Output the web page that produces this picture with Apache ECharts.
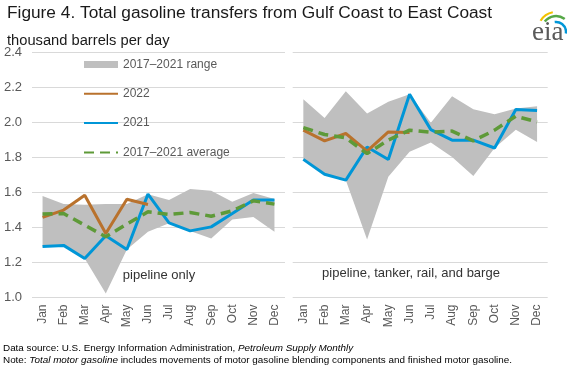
<!DOCTYPE html>
<html><head><meta charset="utf-8">
<script src="https://cdn.jsdelivr.net/npm/echarts@6/dist/echarts.min.js"></script>
<style>html,body{margin:0;padding:0;background:#fff}#c{width:567px;height:370px}</style>
</head><body><div id="c"></div>
<script>
const months = ['Jan','Feb','Mar','Apr','May','Jun','Jul','Aug','Sep','Oct','Nov','Dec'];
const yTicks = [1.0, 1.2, 1.4, 1.6, 1.8, 2.0, 2.2, 2.4];

// pipeline only
const pipeRangeLow  = [1.292, 1.298, 1.223, 1.023, 1.275, 1.376, 1.424, 1.381, 1.338, 1.446, 1.461, 1.376];
const pipeRangeHigh = [1.580, 1.535, 1.530, 1.535, 1.535, 1.591, 1.557, 1.620, 1.610, 1.547, 1.597, 1.563];
const pipe2022 = [1.458, 1.500, 1.585, 1.366, 1.562, 1.532];
const pipe2021 = [1.292, 1.298, 1.223, 1.353, 1.275, 1.591, 1.427, 1.381, 1.404, 1.480, 1.557, 1.557];
const pipeAvg  = [1.477, 1.480, 1.414, 1.347, 1.420, 1.490, 1.475, 1.486, 1.465, 1.496, 1.553, 1.534];

// pipeline, tanker, rail, and barge
const allRangeLow  = [1.790, 1.705, 1.671, 1.332, 1.690, 1.833, 1.886, 1.804, 1.695, 1.855, 1.960, 1.890];
const allRangeHigh = [2.134, 2.027, 2.179, 2.052, 2.119, 2.162, 2.000, 2.151, 2.077, 2.048, 2.081, 2.094];
const all2022 = [1.957, 1.896, 1.938, 1.837, 1.947, 1.943];
const all2021 = [1.790, 1.705, 1.671, 1.861, 1.789, 2.162, 1.960, 1.900, 1.900, 1.855, 2.075, 2.069];
const allAvg  = [1.972, 1.932, 1.913, 1.823, 1.900, 1.957, 1.945, 1.952, 1.896, 1.957, 2.037, 2.004];

const panelLabels = ['pipeline only', 'pipeline, tanker, rail, and barge'];
const legendNames = ['2017\u20132021 range', '2022', '2021', '2017\u20132021 average'];

const FONT = '"Liberation Sans", Arial, sans-serif';
const C_RANGE = '#BFBFBF', C_2022 = '#B9722D', C_2021 = '#0096D7', C_AVG = '#5E9A38';

const chart = echarts.init(document.getElementById('c'), null, {renderer: 'canvas'});

function panelSeries(idx, low, high, y22, y21, avg) {
  const band = high.map((h, i) => +(h - low[i]).toFixed(4));
  return [
    {name: 'rangeLow' + idx, type: 'line', xAxisIndex: idx, yAxisIndex: idx, stack: 'r' + idx,
     data: low, symbol: 'none', lineStyle: {opacity: 0}, silent: true},
    {name: legendNames[0], type: 'line', xAxisIndex: idx, yAxisIndex: idx, stack: 'r' + idx,
     data: band, symbol: 'none', lineStyle: {opacity: 0}, itemStyle: {color: C_RANGE},
     areaStyle: {color: C_RANGE, opacity: 1}},
    {name: legendNames[2], type: 'line', xAxisIndex: idx, yAxisIndex: idx, data: y21, symbol: 'none',
     itemStyle: {color: C_2021}, lineStyle: {color: C_2021, width: 3}},
    {name: legendNames[1], type: 'line', xAxisIndex: idx, yAxisIndex: idx, data: y22, symbol: 'none',
     itemStyle: {color: C_2022}, lineStyle: {color: C_2022, width: 3}},
    {name: legendNames[3], type: 'line', xAxisIndex: idx, yAxisIndex: idx, data: avg, symbol: 'none',
     itemStyle: {color: C_AVG}, lineStyle: {color: C_AVG, width: 3.5, type: [10, 6]}}
  ];
}

const gridTop = 52.7, gridH = 244.8;
const xAxisBase = {
  type: 'category', data: months, boundaryGap: true,
  axisLine: {show: false}, axisTick: {show: false},
  axisLabel: {rotate: 90, interval: 0, fontSize: 12, color: '#595959', fontFamily: FONT, margin: 7}
};
const yAxisBase = {
  type: 'value', min: yTicks[0], max: yTicks[yTicks.length - 1], interval: 0.2,
  axisLine: {show: false}, axisTick: {show: false},
  splitLine: {lineStyle: {color: '#D9D9D9', width: 1}}
};

chart.setOption({
  animation: false,
  backgroundColor: '#fff',
  textStyle: {fontFamily: FONT},
  title: [
    {text: 'Figure 4. Total gasoline transfers from Gulf Coast to East Coast', left: 2, top: 0,
     textStyle: {fontSize: 17.3, fontWeight: 'normal', color: '#1a1a1a', fontFamily: FONT}},
    {text: 'thousand barrels per day', left: 2, top: 28,
     textStyle: {fontSize: 14.7, fontWeight: 'normal', color: '#1a1a1a', fontFamily: FONT}}
  ],
  legend: {
    orient: 'vertical', left: 83, top: 58.5, padding: 0, itemGap: 17.3, itemWidth: 34, itemHeight: 7,
    textStyle: {fontSize: 12, color: '#595959', fontFamily: FONT},
    itemStyle: {opacity: 0},
    data: [
      {name: legendNames[0], icon: 'rect', itemStyle: {opacity: 1, color: C_RANGE}},
      {name: legendNames[1]},
      {name: legendNames[2]},
      {name: legendNames[3]}
    ],
    selectedMode: false
  },
  grid: [
    {left: 32, top: gridTop, width: 253, height: gridH},
    {left: 292.7, top: gridTop, width: 255, height: gridH}
  ],
  xAxis: [
    Object.assign({gridIndex: 0}, xAxisBase),
    Object.assign({gridIndex: 1}, xAxisBase)
  ],
  yAxis: [
    Object.assign({gridIndex: 0, axisLabel: {fontSize: 13, color: '#595959', fontFamily: FONT, margin: 10,
      formatter: v => v.toFixed(1)}}, yAxisBase),
    Object.assign({gridIndex: 1, axisLabel: {show: false}}, yAxisBase)
  ],
  series: [].concat(
    panelSeries(0, pipeRangeLow, pipeRangeHigh, pipe2022, pipe2021, pipeAvg),
    panelSeries(1, allRangeLow, allRangeHigh, all2022, all2021, allAvg)
  ),
  graphic: [
    {type: 'text', x: 159, y: 275, style: {text: panelLabels[0], fontSize: 13, fill: '#333', fontFamily: FONT, align: 'center', verticalAlign: 'middle'}},
    {type: 'text', x: 411, y: 273.5, style: {text: panelLabels[1], fontSize: 13, fill: '#333', fontFamily: FONT, align: 'center', verticalAlign: 'middle'}},
    {type: 'text', x: 3, y: 343.5, style: {rich: {n: {fontSize: 9.9, fill: '#000', fontFamily: FONT}, i: {fontSize: 9.9, fill: '#000', fontFamily: FONT, fontStyle: 'italic'}},
      text: '{n|Data source: U.S. Energy Information Administration, }{i|Petroleum Supply Monthly}'}},
    {type: 'text', x: 3, y: 355.5, style: {rich: {n: {fontSize: 9.9, fill: '#000', fontFamily: FONT}, i: {fontSize: 9.9, fill: '#000', fontFamily: FONT, fontStyle: 'italic'}},
      text: '{n|Note: }{i|Total motor gasoline}{n| includes movements of motor gasoline blending components and finished motor gasoline.}'}},
    // eia logo
    {type: 'arc', shape: {cx: 556, cy: 30, r: 18, startAngle: -2.6, endAngle: -1.75}, style: {stroke: '#F2C200', lineWidth: 2.2, fill: null}},
    {type: 'arc', shape: {cx: 556, cy: 30, r: 14, startAngle: -2.5, endAngle: -0.9}, style: {stroke: '#56A847', lineWidth: 2.5, fill: null}},
    {type: 'arc', shape: {cx: 556, cy: 32, r: 10, startAngle: -1.7, endAngle: 0.15}, style: {stroke: '#0096D7', lineWidth: 2.5, fill: null}},
    {type: 'text', x: 532, y: 19, style: {text: 'eia', fontSize: 27, fill: '#5a5a5a', fontFamily: '"Liberation Serif", "DejaVu Serif", serif'}}
  ]
});
</script></body></html>
